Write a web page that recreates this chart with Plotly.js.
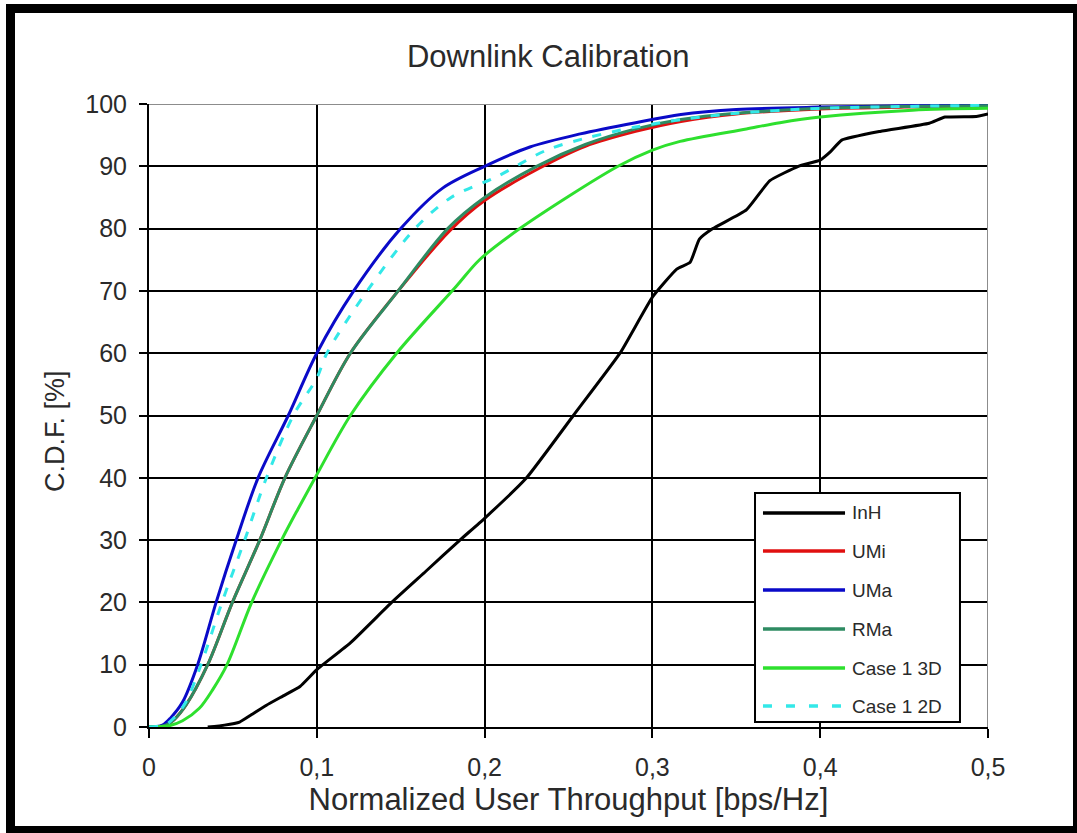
<!DOCTYPE html>
<html>
<head>
<meta charset="utf-8">
<script src="https://cdn.plot.ly/plotly-3.0.1.min.js"></script>
<style>
  html, body { margin: 0; padding: 0; background: #ffffff; }
  #chart { position: absolute; left: 0; top: 0; width: 1077px; height: 833px; }
  #frame {
    position: absolute; left: 6px; top: 4px; right: 0; bottom: 0;
    border-style: solid; border-color: #000000;
    border-width: 9px 4px 7px 9px; box-sizing: border-box;
    pointer-events: none;
  }
</style>
</head>
<body>
<div id="chart"></div>
<div id="frame"></div>
<script>
// Series names, in legend order
const seriesNames = ['InH', 'UMi', 'UMa', 'RMa', 'Case 1 3D', 'Case 1 2D'];

// CDF samples: normalized user throughput [bps/Hz] vs. cumulative percentage
const inhX = [0.035, 0.045, 0.054, 0.06, 0.07, 0.08, 0.09, 0.1, 0.12, 0.1446, 0.165, 0.1853, 0.2, 0.225, 0.2529,
              0.2807, 0.3, 0.3145, 0.3225, 0.328, 0.336, 0.356, 0.37, 0.387, 0.4, 0.406, 0.4128, 0.4357, 0.465, 0.4744, 0.493, 0.5];
const inhY = [0, 0.3, 0.8, 1.8, 3.5, 5, 6.5, 9.2, 13.5, 20, 25, 30, 33.5, 40, 50,
              60, 69, 73.5, 74.6, 78.3, 80, 83, 87.7, 90, 91, 92.3, 94.2, 95.6, 96.9, 97.9, 98, 98.4];

const umiX = [0, 0.01, 0.015, 0.022, 0.035, 0.0497, 0.066, 0.081, 0.1, 0.12, 0.1485, 0.179, 0.2, 0.232, 0.26, 0.29, 0.317, 0.35, 0.4, 0.45, 0.5];
const umiY = [0, 0.3, 1.2, 3.5, 10, 20, 30, 40, 50, 60, 70, 79.6, 84.5, 89.6, 93.2, 95.6, 97.2, 98.4, 99.2, 99.5, 99.6];

const umaX = [0, 0.008, 0.013, 0.02, 0.029, 0.040, 0.052, 0.065, 0.083, 0.1, 0.122, 0.15, 0.175, 0.2, 0.227, 0.257, 0.29, 0.317, 0.35, 0.4, 0.45, 0.5];
const umaY = [0, 0.3, 1.5, 4, 10, 20, 30, 40, 50, 60, 70, 80, 86.5, 90, 93.1, 95.2, 97, 98.3, 99.1, 99.5, 99.7, 99.8];

const rmaX = [0, 0.01, 0.015, 0.022, 0.035, 0.0497, 0.066, 0.081, 0.1, 0.12, 0.1485, 0.178, 0.2, 0.231, 0.26, 0.29, 0.317, 0.35, 0.4, 0.45, 0.5];
const rmaY = [0, 0.3, 1.2, 3.5, 10, 20, 30, 40, 50, 60, 70, 80, 85, 90, 93.5, 96, 97.5, 98.5, 99.3, 99.6, 99.7];

const c3dX = [0, 0.012, 0.02, 0.03, 0.038, 0.0465, 0.0612, 0.079, 0.0888, 0.099, 0.12, 0.1476, 0.183, 0.197, 0.221,
              0.2795, 0.3, 0.3165, 0.356, 0.376, 0.4, 0.455, 0.5];
const c3dY = [0, 0.2, 1, 3, 6, 10, 20, 30, 35, 40, 50, 60, 70.7, 75, 80,
              90, 92.6, 94, 96, 97, 97.9, 99, 99.3];

const c2dX = [0, 0.01, 0.015, 0.022, 0.031, 0.0435, 0.057, 0.070, 0.086, 0.1, 0.106, 0.13, 0.1585, 0.18, 0.207, 0.237,
              0.26, 0.29, 0.32, 0.35, 0.4, 0.45, 0.5];
const c2dY = [0, 0.4, 1.5, 4, 10, 20, 30, 40, 50, 56, 60, 70, 80, 85, 88.3, 92.6,
              94.5, 96.3, 97.6, 98.5, 99.3, 99.6, 99.8];

// Axis ticks
const xTicks = [0, 0.1, 0.2, 0.3, 0.4, 0.5];
const yTicks = [0, 10, 20, 30, 40, 50, 60, 70, 80, 90, 100];

const seriesX = [inhX, umiX, umaX, rmaX, c3dX, c2dX];
const seriesY = [inhY, umiY, umaY, rmaY, c3dY, c2dY];
const colors = ['#000000', '#e01010', '#0a0ac8', '#2e8b62', '#2ee02e', '#33e8e8'];
const dashes = ['solid', 'solid', 'solid', 'solid', 'solid', '9px,11px'];
const smooth = [0.4, 0.9, 0.9, 0.9, 0.9, 0.9];

const FONT = '"Liberation Sans", Arial, sans-serif';
const TXT = '#2a2a2a';

const traces = seriesNames.map((name, i) => ({
  type: 'scatter',
  mode: 'lines',
  name: name,
  x: seriesX[i],
  y: seriesY[i],
  line: { color: colors[i], width: 3, dash: dashes[i], shape: 'spline', smoothing: smooth[i] },
  showlegend: false
}));

// Boxed legend inside the plot (paper coordinates)
const legX0 = 0.7223, legX1 = 0.9666, legY0 = 0.008, legY1 = 0.3756;
const lineX0 = 0.7318, lineX1 = 0.8296, textX = 0.8355;
const rowY = [0.3435, 0.2825, 0.2199, 0.1573, 0.0947, 0.0337];

const shapes = [
  // grey outline on the top and right edges of the plotting area
  { type: 'line', xref: 'x', yref: 'y', x0: 0, x1: 0.5, y0: 100, y1: 100, layer: 'between',
    line: { color: '#8c8c8c', width: 2 } },
  { type: 'line', xref: 'x', yref: 'y', x0: 0.5, x1: 0.5, y0: 0, y1: 100, layer: 'between',
    line: { color: '#8c8c8c', width: 2 } },
  { type: 'rect', xref: 'paper', yref: 'paper', x0: legX0, x1: legX1, y0: legY0, y1: legY1,
    layer: 'above', fillcolor: '#ffffff', line: { color: '#000000', width: 2 } }
];
const annotations = [];
seriesNames.forEach((name, i) => {
  shapes.push({
    type: 'line', xref: 'paper', yref: 'paper', layer: 'above',
    x0: lineX0, x1: lineX1, y0: rowY[i], y1: rowY[i],
    line: { color: colors[i], width: 3.5, dash: dashes[i] === 'solid' ? 'solid' : '9px,14px' }
  });
  annotations.push({
    xref: 'paper', yref: 'paper', x: textX, y: rowY[i],
    xanchor: 'left', yanchor: 'middle', showarrow: false,
    text: name, font: { family: FONT, size: 19, color: TXT }
  });
});

// Vertical axis title, placed beside the tick labels
annotations.push({
  xref: 'paper', yref: 'paper', x: -0.112, y: 0.475,
  xanchor: 'center', yanchor: 'middle', showarrow: false, textangle: -90,
  text: 'C.D.F. [%]', font: { family: FONT, size: 27, color: TXT }
});

const layout = {
  width: 1077,
  height: 833,
  margin: { l: 149, r: 89, t: 104, b: 106 },
  paper_bgcolor: '#ffffff',
  plot_bgcolor: '#ffffff',
  separators: ', ',
  showlegend: false,
  title: {
    text: 'Downlink Calibration',
    x: 0.509, xref: 'container', xanchor: 'center',
    y: 0.932, yref: 'container', yanchor: 'middle',
    font: { family: FONT, size: 31, color: TXT }
  },
  xaxis: {
    range: [0, 0.5],
    tickvals: xTicks,
    tickformat: '.1~f',
    ticks: 'outside', ticklen: 9, tickwidth: 2, tickcolor: '#000000',
    ticklabelstandoff: 8,
    showgrid: true, gridcolor: '#000000', gridwidth: 2,
    showline: true, linecolor: '#000000', linewidth: 2,
    zeroline: false,
    tickfont: { family: FONT, size: 25, color: TXT },
    title: {
      text: 'Normalized User Throughput [bps/Hz]',
      standoff: 8,
      font: { family: FONT, size: 31, color: TXT }
    }
  },
  yaxis: {
    range: [0, 100],
    tickvals: yTicks,
    ticks: 'outside', ticklen: 8, tickwidth: 2, tickcolor: '#000000',
    ticklabelstandoff: 7,
    showgrid: true, gridcolor: '#000000', gridwidth: 2,
    showline: true, linecolor: '#000000', linewidth: 2,
    zeroline: false,
    tickfont: { family: FONT, size: 25, color: TXT }
  },
  shapes: shapes,
  annotations: annotations
};

Plotly.newPlot('chart', traces, layout, { displayModeBar: false, staticPlot: true });
</script>
</body>
</html>
